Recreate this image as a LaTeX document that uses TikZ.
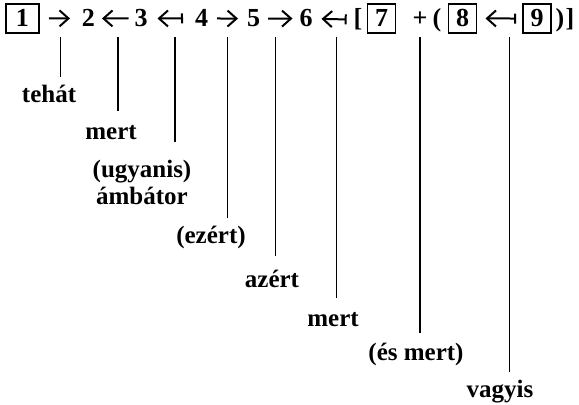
\documentclass[tikz,border=0pt]{standalone}
\usepackage{fontspec}
\setmainfont{Liberation Serif}
\usetikzlibrary{arrows.meta}

\tikzset{
    num/.style={inner sep=0pt, outer sep=0pt, anchor=base, font=\fontsize{13}{15}\selectfont\bfseries},
    numbox/.style={num, draw, line width=0.8pt, minimum width=14pt, minimum height=14.5pt},
    gloss/.style={inner sep=0pt, anchor=base, font=\fontsize{12.5}{15}\selectfont\bfseries},
    rel/.style={line width=1pt, -{Straight Barb[length=4.5pt,width=8pt,line width=1pt]}},
    relbar/.style={rel, {Bar[width=5pt,line width=1pt]}-{Straight Barb[length=4.5pt,width=8pt,line width=1pt]}},
    link/.style={line width=0.65pt}
}

\begin{document}
\begin{tikzpicture}[x=0.5pt,y=-0.5pt]
            \useasboundingbox (0,0) rectangle (579,405);
            % the chain of clauses
            \node[numbox, minimum width=16.5pt] (b1) at (22.5,27) {1};
            \node[num] (n2) at (88.5,27) {2};
            \node[num] (n3) at (141,27) {3};
            \node[num] (n4) at (201.5,27) {4};
            \node[num] (n5) at (253.5,27) {5};
            \node[num] (n6) at (306,27) {6};
            \node[num] (lb) at (358,27) {[};
            \node[numbox] (b7) at (381.5,27) {7};
            \node[num] (plus) at (420,27) {+};
            \node[num] (lp) at (437,27) {(};
            \node[numbox] (b8) at (462.5,27) {8};
            \node[numbox] (b9) at (537,27) {9};
            \node[num] (rp) at (560,27) {)};
            \node[num] (rb) at (570,27) {]};
            % relations between them
            \draw[rel, shorten <=5pt, shorten >=6pt] (b1) -- coordinate[pos=0.5] (r1) (n2);
            \draw[rel, shorten <=3pt, shorten >=3.5pt] (n3) -- coordinate[pos=0.42] (r2) (n2);
            \draw[relbar, shorten <=6pt, shorten >=5pt] (n4) -- coordinate[pos=0.42] (r3) (n3);
            \draw[rel, shorten <=4.5pt, shorten >=4.5pt] (n4) -- coordinate[pos=0.5] (r4) (n5);
            \draw[rel, shorten <=4pt, shorten >=3.5pt] (n5) -- coordinate[pos=0.4] (r5) (n6);
            \draw[relbar, shorten <=3.5pt, shorten >=4.5pt] (lb) -- coordinate[pos=0.42] (r6) (n6);
            \draw[relbar, shorten <=3.5pt, shorten >=4.5pt] (b9) -- coordinate[pos=0.29] (r8) (b8);
            % connective words
            \node[gloss] (tehat) at (49,103) {tehát};
            \node[gloss] (mert) at (111,140) {mert};
            \node[gloss] (ugyanis) at (142,178) {(ugyanis)};
            \node[gloss] (ambator) at (142,205) {ámbátor};
            \node[gloss] (ezert) at (211,244) {(ezért)};
            \node[gloss] (azert) at (272,288) {azért};
            \node[gloss] (mert2) at (333,327) {mert};
            \node[gloss] (esmert) at (416,361) {(és mert)};
            \node[gloss] (vagyis) at (500,398) {vagyis};
            % lines down to the words
            \coordinate (top) at (0,37);
            \draw[link, shorten >=4pt] (r1 |- top) -- (r1 |- tehat.north);
            \draw[link, shorten >=7.5pt] (r2 |- top) -- (r2 |- mert.north);
            \draw[link, shorten >=9pt] (r3 |- top) -- (r3 |- ugyanis.north);
            \draw[link, shorten >=4pt] (r4 |- top) -- (r4 |- ezert.north);
            \draw[link, shorten >=7pt] (r5 |- top) -- (r5 |- azert.north);
            \draw[link, shorten >=7.5pt] (r6 |- top) -- (r6 |- mert2.north);
            \draw[link, shorten >=5pt] (plus |- top) -- (plus |- esmert.north);
            \draw[link, shorten >=4pt] (r8 |- top) -- (r8 |- vagyis.north);
\end{tikzpicture}
\end{document}
